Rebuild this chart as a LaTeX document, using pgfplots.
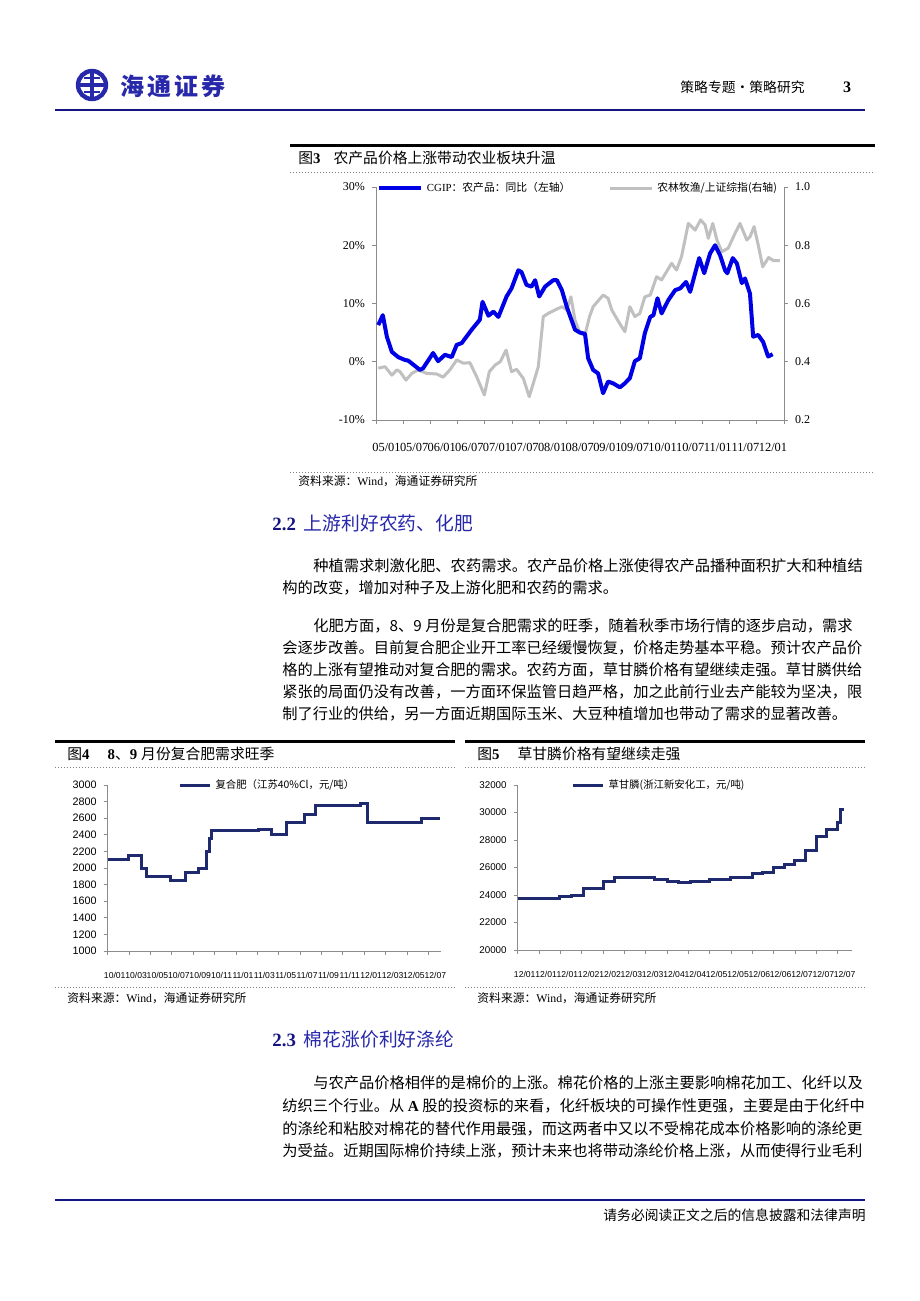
\documentclass[border=0pt]{standalone}
\usepackage{fontspec}
\usepackage{pgfplots}
\pgfplotsset{compat=1.18}
\setmainfont{Liberation Serif}
\newfontfamily\cjk{Noto Sans CJK SC}
\newfontfamily\arial{Liberation Sans}
\definecolor{cblue}{RGB}{0,0,230}
\definecolor{cgray}{RGB}{192,192,192}
\definecolor{navy}{RGB}{31,42,110}
\definecolor{hblue}{RGB}{40,40,170}
\definecolor{lnavy}{RGB}{20,20,130}
\definecolor{axgray}{RGB}{140,140,140}
\newcommand\fs[1]{\fontsize{#1}{#1}\selectfont}
\pgfplotsset{
  common/.style={scale only axis, anchor=south west, tick align=outside,
    scaled y ticks=false, scaled x ticks=false,
    axis line style={axgray, line width=0.4pt}, tick style={axgray, line width=0.4pt},
    major tick length=2pt, minor tick length=2pt, clip=false,
    legend image code/.code={\draw[##1] (0pt,0pt) -- (15pt,0pt);},
    legend style={draw=none, fill=none, inner sep=0pt, legend columns=2,
      /tikz/every even column/.append style={column sep=17pt}},
  },
  longleg/.style={legend image code/.code={\draw[##1] (0pt,0pt) -- (21pt,0pt);}}
}
\begin{document}
\begin{tikzpicture}[x=0.5pt,y=-0.5pt]
\path[use as bounding box, fill=white] (0,0) rectangle (920,1301);
% ---------------- header
\draw[hblue, line width=2.2pt] (92,85) circle (14);
\draw[hblue, line width=1.6pt] (79,85) -- (105,85) (92,72) -- (92,98);
\draw[hblue, line width=1.2pt] (84,78) -- (100,78) (84,92) -- (100,92);
\node[anchor=west, inner sep=0, text=hblue, font=\cjk\bfseries\fs{12pt}] at (120,86) {海\hspace{1.5pt}通\hspace{1.5pt}证\hspace{1.5pt}券};
\node[anchor=east, inner sep=0, font=\cjk\fs{6.9pt}] at (805,87) {策略专题·策略研究};
\node[inner sep=0, font=\bfseries\fs{8pt}] at (847,87) {3};
\draw[lnavy, line width=0.8pt] (55,110) -- (865,110);
% ---------------- figure 3 frame
\draw[black, line width=1.5pt] (290,145) -- (875,145);
\node[anchor=west, inner sep=0] at (298,158) {{\cjk\fs{7.4pt}图}{\bfseries\fs{7.4pt}3}\hspace{6.5pt}{\cjk\fs{7.4pt}农产品价格上涨带动农业板块升温}};
\draw[gray, line width=0.5pt, densely dotted] (290,172) -- (875,172);
\draw[gray, line width=0.5pt, densely dotted] (290,472) -- (875,472);
\node[anchor=west, inner sep=0] at (298,481) {\fs{5.9pt}{\cjk 资料来源：}Wind{\cjk ，海通证券研究所}};
% right axis (gray)
\begin{axis}[common, at={(188pt,-210pt)}, width=204pt, height=116.5pt,
  xmin=0, xmax=90, ymin=0.2, ymax=1.0, axis x line=none, axis y line*=right,
  ytick={0.2,0.4,0.6,0.8,1.0}, yticklabels={0.2,0.4,0.6,0.8,1.0},
  yticklabel style={font=\fs{6pt}}]
\addplot[cgray, line width=1.5pt, line join=round] coordinates {
(0.5,0.378) (2.0,0.383) (3.5,0.354) (4.6,0.372) (5.3,0.366) (6.6,0.337) (7.9,0.360) (9.3,0.372) (11.2,0.360) (13.4,0.358) (14.8,0.347) (16.3,0.372) (17.8,0.406) (19.3,0.395) (20.7,0.397) (22.2,0.349) (23.9,0.286) (25.0,0.366) (26.3,0.389) (27.4,0.400) (28.7,0.440) (29.9,0.366) (31.0,0.374) (32.5,0.343) (33.8,0.280) (34.7,0.326) (35.8,0.383) (36.9,0.555) (38.0,0.566) (39.5,0.578) (41.0,0.589) (42.1,0.578) (43.0,0.623) (43.9,0.543) (45.0,0.498) (46.1,0.492) (47.1,0.555) (47.9,0.589) (50.1,0.629) (51.2,0.618) (52.0,0.578) (53.5,0.538) (54.9,0.503) (56.0,0.589) (57.1,0.555) (58.2,0.566) (59.3,0.623) (60.5,0.629) (61.9,0.692) (63.0,0.681) (65.2,0.738) (66.3,0.715) (67.4,0.761) (68.9,0.875) (70.4,0.852) (71.6,0.887) (72.6,0.870) (73.3,0.824) (74.3,0.875) (75.2,0.818) (76.3,0.778) (77.7,0.790) (79.2,0.841) (80.3,0.875) (81.8,0.818) (82.5,0.829) (83.4,0.864) (84.4,0.795) (85.3,0.726) (86.6,0.758) (87.7,0.747) (89.1,0.747)};
\end{axis}
% left axis (blue)
\begin{axis}[common, longleg, at={(188pt,-210pt)}, width=204pt, height=116.5pt,
  xmin=0, xmax=90, ymin=-10, ymax=30, axis x line*=bottom, axis y line*=left,
  ytick={-10,0,10,20,30}, yticklabels={-10\%,0\%,10\%,20\%,30\%},
  yticklabel style={font=\fs{6pt}},
  xtick={2.32,8.41,14.50,20.59,26.68,32.77,38.86,44.95,51.04,57.13,63.22,69.31,75.40,81.49,87.58},
  xticklabels={05/01,05/07,06/01,06/07,07/01,07/07,08/01,08/07,09/01,09/07,10/01,10/07,11/01,11/07,12/01},
  major x tick style={draw=none}, minor xtick={0,6,...,90},
  xticklabel style={font=\fs{6.2pt}, yshift=-6pt},
  legend style={at={(0.4975,0.995)}, anchor=center, font=\fs{5.4pt}}]
\addplot[cblue, line width=2pt, line join=round] coordinates {
(0.5,6.3) (1.5,8.0) (2.4,4.3) (3.5,1.7) (4.9,0.8) (6.4,0.3) (7.1,0.2) (9.7,-1.4) (10.4,-1.1) (12.6,1.5) (13.7,0.1) (15.2,1.2) (16.7,0.8) (17.8,2.9) (18.9,3.2) (21.1,5.5) (22.9,7.2) (23.5,10.3) (24.8,7.9) (25.9,8.6) (27.0,7.7) (28.8,11.2) (29.9,12.6) (31.4,15.7) (32.1,15.4) (33.2,13.2) (34.3,12.9) (35.1,14.0) (36.0,11.2) (37.3,12.9) (39.1,14.0) (39.9,14.0) (41.0,12.3) (42.1,9.4) (43.9,5.5) (45.0,5.0) (46.1,4.8) (46.8,0.6) (47.9,-1.4) (49.0,-2.0) (50.1,-5.4) (51.2,-3.4) (52.3,-3.7) (53.8,-4.4) (54.9,-3.7) (56.0,-2.8) (57.1,0.1) (58.2,0.6) (59.3,4.9) (60.5,7.7) (61.2,8.0) (62.1,10.9) (63.0,8.3) (64.5,10.6) (66.0,12.3) (67.1,12.6) (68.4,13.7) (69.3,12.0) (70.4,15.2) (71.3,17.8) (72.4,15.2) (73.7,18.6) (74.8,20.0) (75.9,18.3) (77.0,15.7) (77.5,15.2) (78.7,17.8) (79.6,16.9) (80.7,13.5) (81.4,14.3) (82.5,11.7) (83.2,4.3) (84.3,4.6) (85.4,3.4) (86.5,0.9) (87.5,1.3)};
\addlegendentry{CGIP{\cjk ：农产品：同比（左轴）}}
\addlegendimage{cgray, line width=1.5pt}
\addlegendentry{{\cjk 农林牧渔/上证综指(右轴)}}
\end{axis}
% ---------------- section 2.2
\node[anchor=west, inner sep=0] at (272,523) {{\bfseries\color{lnavy}\fs{9.4pt}2.2}\hspace{4pt}{\cjk\color{hblue}\fs{9.4pt}上游利好农药、化肥}};
\begin{scope}[every node/.style={anchor=west, inner sep=0, font=\cjk\fs{7.63pt}}]
\node at (313,566) {种植需求刺激化肥、农药需求。农产品价格上涨使得农产品播种面积扩大和种植结};
\node at (282,588) {构的改变，增加对种子及上游化肥和农药的需求。};
\node at (313,626) {化肥方面，8、9 月份是复合肥需求的旺季，随着秋季市场行情的逐步启动，需求};
\node at (282,648) {会逐步改善。目前复合肥企业开工率已经缓慢恢复，价格走势基本平稳。预计农产品价};
\node at (282,670) {格的上涨有望推动对复合肥的需求。农药方面，草甘膦价格有望继续走强。草甘膦供给};
\node at (282,692) {紧张的局面仍没有改善，一方面环保监管日趋严格，加之此前行业去产能较为坚决，限};
\node at (282,714) {制了行业的供给，另一方面近期国际玉米、大豆种植增加也带动了需求的显著改善。};
\node at (313,1083) {与农产品价格相伴的是棉价的上涨。棉花价格的上涨主要影响棉花加工、化纤以及};
\node at (282,1106) {纺织三个行业。从 {\rmfamily\bfseries A} 股的投资标的来看，化纤板块的可操作性更强，主要是由于化纤中};
\node at (282,1129) {的涤纶和粘胶对棉花的替代作用最强，而这两者中又以不受棉花成本价格影响的涤纶更};
\node at (282,1151) {为受益。近期国际棉价持续上涨，预计未来也将带动涤纶价格上涨，从而使得行业毛利};
\end{scope}
% ---------------- figure 4 frame
\draw[black, line width=1.5pt] (55,741) -- (455,741);
\node[anchor=west, inner sep=0] at (67,754) {{\cjk\fs{7.4pt}图}{\bfseries\fs{7.4pt}4}\hspace{9pt}{\bfseries\fs{7.4pt}8}{\cjk\fs{7.4pt}、}{\bfseries\fs{7.4pt}9}\hspace{2pt}{\cjk\fs{7.4pt}月份复合肥需求旺季}};
\draw[gray, line width=0.5pt, densely dotted] (55,767) -- (455,767);
\draw[gray, line width=0.5pt, densely dotted] (55,987) -- (455,987);
\node[anchor=west, inner sep=0] at (67,998) {\fs{5.9pt}{\cjk 资料来源：}Wind{\cjk ，海通证券研究所}};
\begin{axis}[common, at={(53.85pt,-475.5pt)}, width=166.7pt, height=83pt,
  xmin=0, xmax=31.2, ymin=1000, ymax=3000, axis x line*=bottom, axis y line*=left,
  ytick={1000,1200,1400,1600,1800,2000,2200,2400,2600,2800,3000},
  yticklabels={1000,1200,1400,1600,1800,2000,2200,2400,2600,2800,3000},
  yticklabel style={font=\arial\fs{5.4pt}},
  xtick={0.66,2.66,4.66,6.66,8.66,10.66,12.66,14.66,16.66,18.66,20.66,22.66,24.66,26.66,28.66,30.66},
  xticklabels={10/01,10/03,10/05,10/07,10/09,10/11,11/01,11/03,11/05,11/07,11/09,11/11,12/01,12/03,12/05,12/07},
  major x tick style={draw=none}, minor xtick={0,2,...,30},
  xticklabel style={font=\arial\fs{4.3pt}, yshift=-5pt},
  legend style={at={(0.482,0.995)}, anchor=center, font=\fs{5.2pt}}]
\addplot[navy, line width=1.5pt, const plot] coordinates {
(0,2100) (1.93,2150) (3.2,2000) (3.6,1900) (5.9,1850) (7.3,1950) (8.5,2000) (9.25,2200) (9.5,2350) (9.7,2450) (14.1,2460) (15.3,2400) (16.7,2550) (18.4,2650) (19.4,2750) (23.7,2780) (24.3,2550) (29.4,2600) (31.05,2600)};
\addlegendentry{{\cjk 复合肥（江苏40\%Cl，元/吨）}}
\end{axis}
% ---------------- figure 5 frame
\draw[black, line width=1.5pt] (465,741) -- (865,741);
\node[anchor=west, inner sep=0] at (477,754) {{\cjk\fs{7.4pt}图}{\bfseries\fs{7.4pt}5}\hspace{9pt}{\cjk\fs{7.4pt}草甘膦价格有望继续走强}};
\draw[gray, line width=0.5pt, densely dotted] (465,767) -- (865,767);
\draw[gray, line width=0.5pt, densely dotted] (465,987) -- (865,987);
\node[anchor=west, inner sep=0] at (477,998) {\fs{5.9pt}{\cjk 资料来源：}Wind{\cjk ，海通证券研究所}};
\begin{axis}[common, at={(258.85pt,-475pt)}, width=167pt, height=82.5pt,
  xmin=0, xmax=15.66, ymin=20000, ymax=32000, axis x line*=bottom, axis y line*=left,
  ytick={20000,22000,24000,26000,28000,30000,32000},
  yticklabels={20000,22000,24000,26000,28000,30000,32000},
  yticklabel style={font=\arial\fs{4.9pt}},
  xtick={0.33,1.33,2.33,3.33,4.33,5.33,6.33,7.33,8.33,9.33,10.33,11.33,12.33,13.33,14.33,15.33},
  xticklabels={12/01,12/01,12/01,12/02,12/02,12/03,12/03,12/04,12/04,12/05,12/05,12/06,12/06,12/07,12/07,12/07},
  major x tick style={draw=none}, minor xtick={0,1,...,15},
  xticklabel style={font=\arial\fs{4.3pt}, yshift=-5pt},
  legend style={at={(0.426,0.995)}, anchor=center, font=\fs{5.2pt}}]
\addplot[navy, line width=1.5pt, const plot] coordinates {
(0,23750) (1.98,23900) (2.53,24000) (3.08,24500) (4.0,25000) (4.56,25250) (6.4,25100) (7.03,25000) (7.53,24900) (8.08,25000) (9.0,25150) (10.0,25250) (11.0,25550) (11.5,25650) (12.0,26000) (12.5,26250) (13.0,26500) (13.5,27250) (14.0,28250) (14.5,28750) (15.0,29250) (15.15,30250) (15.3,30250)};
\addlegendentry{{\cjk 草甘膦(浙江新安化工，元/吨)}}
\end{axis}
% ---------------- section 2.3
\node[anchor=west, inner sep=0] at (272,1039) {{\bfseries\color{lnavy}\fs{9.4pt}2.3}\hspace{4pt}{\cjk\color{hblue}\fs{9.4pt}棉花涨价利好涤纶}};
% ---------------- footer
\draw[lnavy, line width=0.8pt] (55,1200) -- (865,1200);
\node[anchor=east, inner sep=0, font=\cjk\fs{6.9pt}] at (866,1215) {请务必阅读正文之后的信息披露和法律声明};
\end{tikzpicture}
\end{document}
